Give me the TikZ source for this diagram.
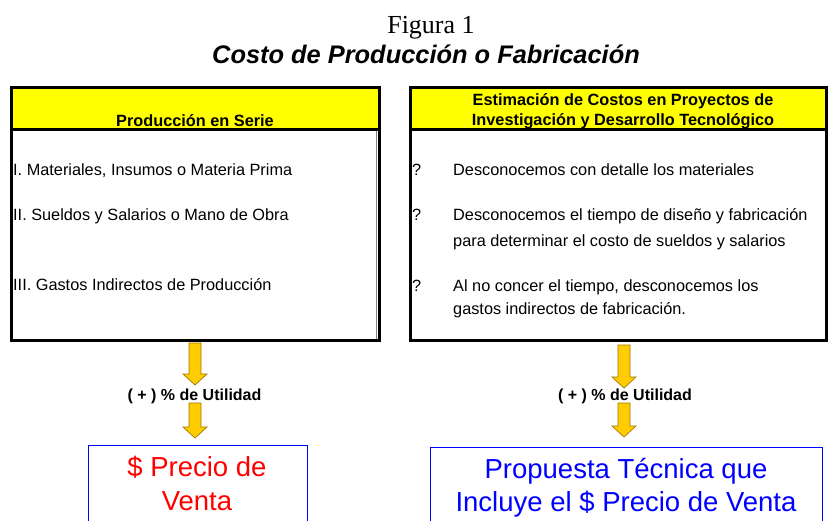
\documentclass[tikz,border=0pt]{standalone}
\usepackage{fontspec}
\setmainfont{Liberation Sans}
\newfontfamily\timesf{Liberation Serif}
\usetikzlibrary{calc}
\definecolor{hdryellow}{HTML}{FFFF00}
\definecolor{arrgold}{HTML}{FFCC00}
\definecolor{arredge}{HTML}{A07800}
\definecolor{boxblue}{HTML}{0000FF}
\definecolor{txtred}{HTML}{FF0000}
\tikzset{
  bodytxt/.style={anchor=base west, inner sep=0pt, font=\fontsize{16.3}{19}\selectfont},
  hdrtxt/.style={anchor=base, inner sep=0pt, font=\fontsize{16.3}{19}\selectfont\bfseries},
  utiltxt/.style={anchor=base, inner sep=0pt, font=\fontsize{16}{19}\selectfont\bfseries},
  bigtxt/.style={anchor=base, inner sep=0pt, font=\fontsize{27.5}{32}\selectfont},
  framebox/.style={draw=black, line width=3pt, outer sep=0pt, inner sep=0pt, anchor=north west},
  hdrfill/.style={fill=hdryellow},
  resbox/.style={draw=boxblue, line width=0.9pt, outer sep=0pt, inner sep=0pt, anchor=north west},
  arrowfill/.style={fill=arrgold, draw=arredge, line width=0.7pt, line join=miter},
}
\newcommand\blockarrow[2]{%
  \filldraw[arrowfill] let \p1=(#1), \p2=(#2) in
   (\x1-6pt,\y1) -- (\x1+6pt,\y1) -- (\x1+6pt,\y2+11pt) -- (\x1+12pt,\y2+11pt)
   -- (\x1,\y2) -- (\x1-12pt,\y2+11pt) -- (\x1-6pt,\y2+11pt) -- cycle;}
\begin{document}
\begin{tikzpicture}[x=1pt,y=-1pt]
\useasboundingbox (0,0) rectangle (829,520);
\clip (0,0) rectangle (829,520);

% titles
\node[anchor=base, inner sep=0pt, font=\timesf\fontsize{26}{30}\selectfont] (fig) at (431,33.3) {Figura 1};
\node[anchor=base, inner sep=0pt, font=\fontsize{25.4}{30}\selectfont\bfseries\itshape] (title) at (426,63.3) {Costo de Producción o Fabricación};

% left box
\fill[hdrfill] (11.5,87.5) rectangle (379,129.5);
\node[framebox, minimum width=367.5pt, minimum height=253pt] (leftbox) at (11.5,87.5) {};
\draw[line width=3pt] (11.5,129.5) -- (379,129.5);
\draw[gray, line width=1.3pt] (376.3,131) -- (376.3,339);
\node[hdrtxt] (lhdr) at (195,126) {Producción en Serie};
\node[bodytxt] (l1) at (13,175) {I. Materiales, Insumos o Materia Prima};
\node[bodytxt] (l2) at (13,220) {II. Sueldos y Salarios o Mano de Obra};
\node[bodytxt] (l3) at (13,290.7) {III. Gastos Indirectos de Producción};

% right box
\fill[hdrfill] (410,87.5) rectangle (826.5,129.5);
\node[framebox, minimum width=416.5pt, minimum height=253pt] (rightbox) at (410,87.5) {};
\draw[line width=3pt] (410,129.5) -- (826.5,129.5);
\node[hdrtxt] (rhdr1) at (623,105) {Estimación de Costos en Proyectos de};
\node[hdrtxt] (rhdr2) at (623,125) {Investigación y Desarrollo Tecnológico};
\node[bodytxt] (q1) at (412,175) {?};
\node[bodytxt] (r1) at (453,175) {Desconocemos con detalle los materiales};
\node[bodytxt] (q2) at (412,220) {?};
\node[bodytxt] (r2) at (453,220) {Desconocemos el tiempo de diseño y fabricación};
\node[bodytxt] (r2b) at (453,246.7) {para determinar el costo de sueldos y salarios};
\node[bodytxt] (q3) at (412,291) {?};
\node[bodytxt] (r3) at (453,291) {Al no concer el tiempo, desconocemos los};
\node[bodytxt] (r3b) at (453,314) {gastos indirectos de fabricación.};

% utility labels
\node[utiltxt] (utilL) at (194.5,400.5) {( + ) \% de Utilidad};
\node[utiltxt] (utilR) at (625,400.5) {( + ) \% de Utilidad};

% result boxes
\node[resbox, minimum width=219pt, minimum height=90pt] (precio) at (88,445.5) {};
\node[bigtxt, text=txtred] (p1) at (197,476.7) {\$ Precio de};
\node[bigtxt, text=txtred] (p2) at (197,510) {Venta};
\node[resbox, minimum width=392pt, minimum height=90pt] (propuesta) at (430,447) {};
\node[bigtxt, text=boxblue] (b1) at (626,478) {Propuesta Técnica que};
\node[bigtxt, text=boxblue] (b2) at (626,511.7) {Incluye el \$ Precio de Venta};

% arrows
\coordinate (aL1s) at (195,343);
\coordinate (aL1e) at (195,385);
\coordinate (aL2s) at (195,403);
\coordinate (aL2e) at (195,438);
\coordinate (aR1s) at (624,345);
\coordinate (aR1e) at (624,388);
\coordinate (aR2s) at (624,403);
\coordinate (aR2e) at (624,437);
\blockarrow{aL1s}{aL1e}
\blockarrow{aL2s}{aL2e}
\blockarrow{aR1s}{aR1e}
\blockarrow{aR2s}{aR2e}
\end{tikzpicture}
\end{document}
